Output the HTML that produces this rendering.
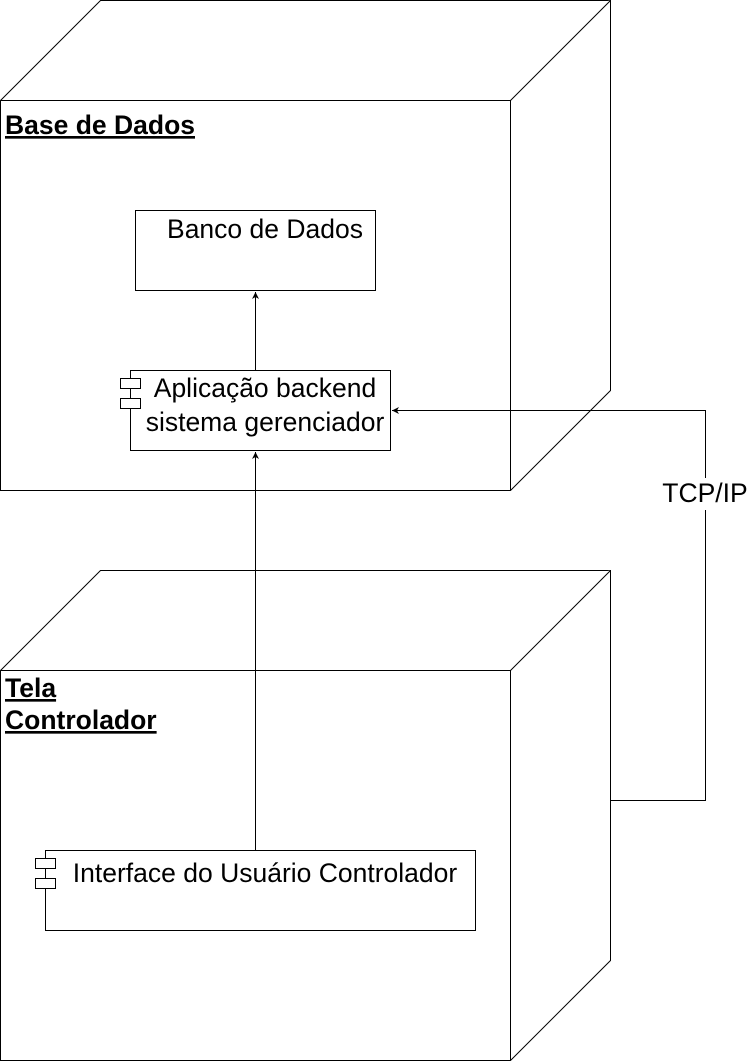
<!DOCTYPE html>
<html><head><meta charset="utf-8"><style>body{margin:0;background:#fff}svg{display:block}text{font-family:"Liberation Sans",Helvetica,sans-serif;font-size:26.5px;fill:#000}</style></head><body>
<svg width="749" height="1061" viewBox="0 0 749 1061" xmlns="http://www.w3.org/2000/svg">
<defs><marker id="a" markerWidth="8" markerHeight="8" refX="7" refY="4" orient="auto" markerUnits="userSpaceOnUse"><path d="M0,0.5 L7,4 L0,7.5 L2,4 Z" fill="#000"/></marker></defs>
<g fill="#fff" stroke="#000" stroke-width="1">
<path d="M0.5,100.5 L100.5,0.5 L610.5,0.5 L610.5,390.5 L510.5,490.5 L0.5,490.5 Z"/>
<path d="M0.5,100.5 L510.5,100.5 L610.5,0.5 M510.5,100.5 L510.5,490.5"/>
<path d="M0.5,670.5 L100.5,570.5 L610.5,570.5 L610.5,960.5 L510.5,1060.5 L0.5,1060.5 Z"/>
<path d="M0.5,670.5 L510.5,670.5 L610.5,570.5 M510.5,670.5 L510.5,1060.5"/>
<rect x="135.5" y="210.5" width="240" height="80"/>
<rect x="130.5" y="370.5" width="260" height="80"/>
<rect x="120.5" y="378.5" width="20" height="10"/>
<rect x="120.5" y="398.5" width="20" height="10"/>
<rect x="45.5" y="850.5" width="430" height="80"/>
<rect x="35.5" y="858.5" width="20" height="10"/>
<rect x="35.5" y="878.5" width="20" height="10"/>
</g>
<g stroke="#000" fill="none">
<path d="M255.5,370 L255.5,292" marker-end="url(#a)"/>
<path d="M255.5,850 L255.5,452" marker-end="url(#a)"/>
<path d="M610,800.5 L705.5,800.5 L705.5,410.5 L392,410.5" marker-end="url(#a)"/>
</g>
<rect x="658" y="478" width="91" height="32" fill="#fff"/>
<text x="705" y="502" text-anchor="middle">TCP/IP</text>
<text x="5" y="134" font-weight="bold" text-decoration="underline">Base de Dados</text>
<text x="5" y="697" font-weight="bold" text-decoration="underline">Tela</text>
<text x="5" y="729" font-weight="bold" text-decoration="underline">Controlador</text>
<text x="265" y="238" text-anchor="middle">Banco de Dados</text>
<text x="265" y="397" text-anchor="middle">Aplicação backend</text>
<text x="265" y="431" text-anchor="middle">sistema gerenciador</text>
<text x="265" y="882" text-anchor="middle">Interface do Usuário Controlador</text>
</svg>
</body></html>
